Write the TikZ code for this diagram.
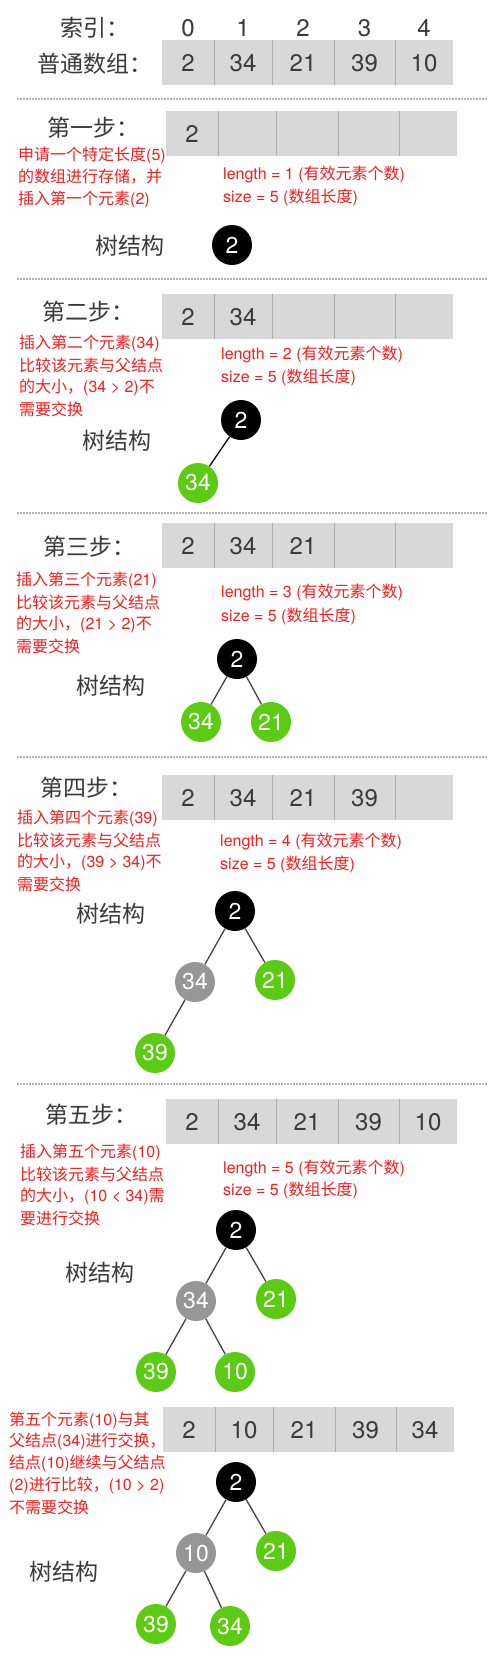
\documentclass[tikz,border=0pt]{standalone}
\usepackage{fontspec}
\setmainfont{TeX Gyre Heros}
\newfontfamily\cjkf{Noto Sans CJK SC}
\newcommand\cj[1]{{\cjkf #1}}
\definecolor{boxgray}{HTML}{D8D8D8}
\definecolor{divgray}{HTML}{ADADAD}
\definecolor{txtdark}{HTML}{3A3A3A}
\definecolor{redt}{HTML}{FF1A1A}
\definecolor{grnc}{HTML}{5BCB14}
\definecolor{nodegray}{HTML}{969696}
\definecolor{edgec}{HTML}{444444}
\tikzset{
  cellbox/.style={fill=boxgray},
  divider/.style={draw=divgray,line width=1pt},
  hdr/.style={anchor=west,inner sep=0pt,text=txtdark,font=\cjkf\fontsize{23}{27}\selectfont},
  numtxt/.style={inner sep=0pt,text=txtdark,font=\fontsize{24}{28}\selectfont},
  redtxt/.style={anchor=west,inner sep=0pt,text=redt,font=\fontsize{16}{19}\selectfont},
  infotxt/.style={anchor=west,inner sep=0pt,text=redt,font=\fontsize{16}{19}\selectfont},
  treenode/.style={circle,minimum size=40pt,inner sep=0pt,text=white,font=\fontsize{23}{26}\selectfont},
  blk/.style={treenode,fill=black},
  grn/.style={treenode,fill=grnc},
  gry/.style={treenode,fill=nodegray},
  edge/.style={draw=edgec,line width=1.3pt},
  sep/.style={draw=black!30,line width=1.3pt,dash pattern=on 1.5pt off 1.5pt}
}
\newcommand\cellrow[4]{%
  \path[cellbox] (#2,#3) rectangle ++(291,45);
  \foreach \dx in {52,110,172,233} \draw[divider] (#2+\dx,#3) -- ++(0,45);
  \foreach \v [count=\i] in {#4} {%
    \pgfmathsetmacro\cx{{26,81,141,202.5,262}[\i-1]}
    \node[numtxt] (#1v\i) at (#2+\cx,#3+23) {\v};
  }%
}
\newcommand\lenline{\cj{有效元素个数}}
\newcommand\sizeline{\cj{数组长度}}
\begin{document}
\begin{tikzpicture}[x=1pt,y=-1pt]
\useasboundingbox[fill=white] (0,0) rectangle (497,1658);

% ---- header
\node[hdr] (idxlab) at (60,28) {索引：};
\foreach \v/\c [count=\i] in {0/26,1/81,2/141,3/202.5,4/262}
  \node[numtxt] (idx\i) at (162+\c,28) {\v};
\node[hdr] (arrlab) at (37,64) {普通数组：};
\cellrow{a0}{162}{40}{2,34,21,39,10}
\draw[sep] (17,99) -- (487,99);

% ---- step 1
\node[hdr] (s1lab) at (47,128) {第一步：};
\cellrow{a1}{166}{111}{2}
\foreach \t [count=\i] in {{\cj{申请一个特定长度}(5)},{\cj{的数组进行存储，并}},{\cj{插入第一个元素}(2)}}
  \node[redtxt] (s1r\i) at (18,155+22*\i-22) {\t};
\node[infotxt] (s1len) at (223,175) {length = 1 (\lenline)};
\node[infotxt] (s1size) at (223,197) {size = 5 (\sizeline)};
\node[hdr] (s1tree) at (95,246) {树结构};
\node[blk] (s1n1) at (232,245) {2};
\draw[sep] (17,279) -- (487,279);

% ---- step 2
\node[hdr] (s2lab) at (42,312) {第二步：};
\cellrow{a2}{162}{294}{2,34}
\foreach \t [count=\i] in {{\cj{插入第二个元素}(34)},{\cj{比较该元素与父结点}},{\cj{的大小，}(34 > 2)\cj{不}},{\cj{需要交换}}}
  \node[redtxt] (s2r\i) at (19,343+22*\i-22) {\t};
\node[infotxt] (s2len) at (221,355) {length = 2 (\lenline)};
\node[infotxt] (s2size) at (221,377) {size = 5 (\sizeline)};
\node[hdr] (s2tree) at (82,441) {树结构};
\node[blk] (s2n1) at (241,420) {2};
\node[grn] (s2n2) at (198,483) {34};
\draw[edge,draw=black] (s2n1) -- (s2n2);
\draw[sep] (17,513) -- (487,513);

% ---- step 3
\node[hdr] (s3lab) at (43,547) {第三步：};
\cellrow{a3}{162}{523}{2,34,21}
\foreach \t [count=\i] in {{\cj{插入第三个元素}(21)},{\cj{比较该元素与父结点}},{\cj{的大小，}(21 > 2)\cj{不}},{\cj{需要交换}}}
  \node[redtxt] (s3r\i) at (16,580+22*\i-22) {\t};
\node[infotxt] (s3len) at (221,593) {length = 3 (\lenline)};
\node[infotxt] (s3size) at (221,616) {size = 5 (\sizeline)};
\node[hdr] (s3tree) at (76,686) {树结构};
\node[blk] (s3n1) at (237,659) {2};
\node[grn] (s3n2) at (201,722) {34};
\node[grn] (s3n3) at (271,722) {21};
\draw[edge] (s3n1) -- (s3n2);
\draw[edge] (s3n1) -- (s3n3);
\draw[sep] (17,757) -- (487,757);

% ---- step 4
\node[hdr] (s4lab) at (40,788) {第四步：};
\cellrow{a4}{162}{775}{2,34,21,39}
\foreach \t [count=\i] in {{\cj{插入第四个元素}(39)},{\cj{比较该元素与父结点}},{\cj{的大小，}(39 > 34)\cj{不}},{\cj{需要交换}}}
  \node[redtxt] (s4r\i) at (17,818+22*\i-22) {\t};
\node[infotxt] (s4len) at (220,842) {length = 4 (\lenline)};
\node[infotxt] (s4size) at (220,864) {size = 5 (\sizeline)};
\node[hdr] (s4tree) at (76,914) {树结构};
\node[blk] (s4n1) at (235,911) {2};
\node[gry] (s4n2) at (195,982) {34};
\node[grn] (s4n3) at (275,980) {21};
\node[grn] (s4n4) at (155,1053) {39};
\draw[edge] (s4n1) -- (s4n2);
\draw[edge] (s4n1) -- (s4n3);
\draw[edge] (s4n2) -- (s4n4);
\draw[sep] (17,1084) -- (487,1084);

% ---- step 5
\node[hdr] (s5lab) at (45,1115) {第五步：};
\cellrow{a5}{166}{1099}{2,34,21,39,10}
\foreach \t [count=\i] in {{\cj{插入第五个元素}(10)},{\cj{比较该元素与父结点}},{\cj{的大小，}(10 < 34)\cj{需}},{\cj{要进行交换}}}
  \node[redtxt] (s5r\i) at (20,1152+22*\i-22) {\t};
\node[infotxt] (s5len) at (223,1168) {length = 5 (\lenline)};
\node[infotxt] (s5size) at (223,1190) {size = 5 (\sizeline)};
\node[hdr] (s5tree) at (65,1273) {树结构};
\node[blk] (s5n1) at (236,1230) {2};
\node[gry] (s5n2) at (196,1301) {34};
\node[grn] (s5n3) at (276,1299) {21};
\node[grn] (s5n4) at (156,1372) {39};
\node[grn] (s5n5) at (235,1372) {10};
\draw[edge] (s5n1) -- (s5n2);
\draw[edge] (s5n1) -- (s5n3);
\draw[edge] (s5n2) -- (s5n4);
\draw[edge] (s5n2) -- (s5n5);

% ---- step 6
\cellrow{a6}{163}{1407}{2,10,21,39,34}
\foreach \t [count=\i] in {{\cj{第五个元素}(10)\cj{与其}},{\cj{父结点}(34)\cj{进行交换，}},{\cj{结点}(10)\cj{继续与父结点}},{(2)\cj{进行比较，}(10 > 2)},{\cj{不需要交换}}}
  \node[redtxt] (s6r\i) at (9,1420+21.8*\i-21.8) {\t};
\node[hdr] (s6tree) at (29,1572) {树结构};
\node[blk] (s6n1) at (236,1482) {2};
\node[gry] (s6n2) at (196,1553) {10};
\node[grn] (s6n3) at (276,1551) {21};
\node[grn] (s6n4) at (156,1624) {39};
\node[grn] (s6n5) at (230,1626) {34};
\draw[edge] (s6n1) -- (s6n2);
\draw[edge] (s6n1) -- (s6n3);
\draw[edge] (s6n2) -- (s6n4);
\draw[edge] (s6n2) -- (s6n5);
\end{tikzpicture}
\end{document}
